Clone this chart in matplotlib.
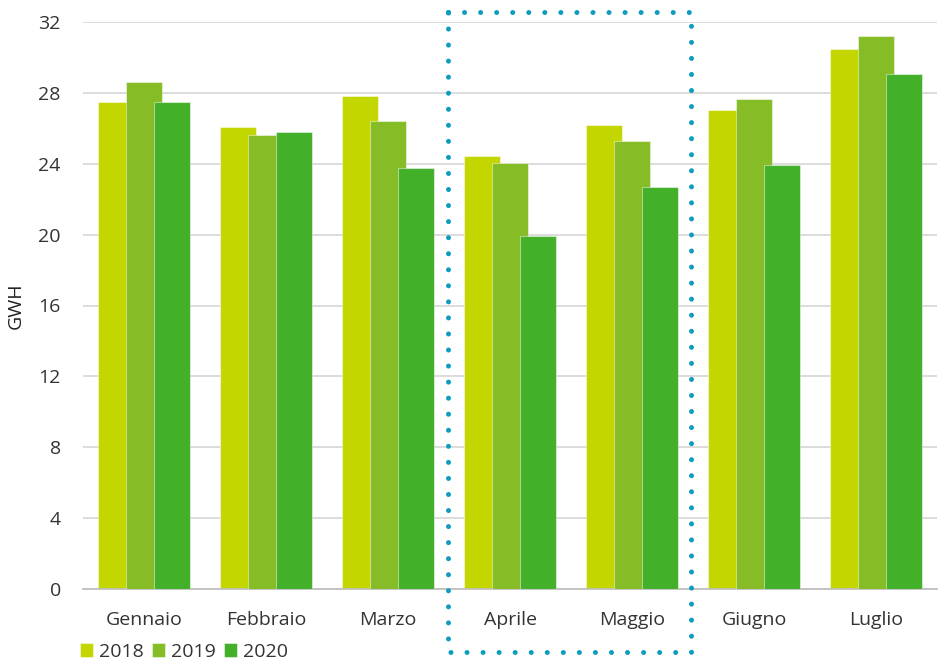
import matplotlib
matplotlib.use('Agg')
import matplotlib.pyplot as plt
import numpy as np

plt.rcParams['font.family'] = ['Open Sans', 'DejaVu Sans']
plt.rcParams['font.size'] = 14

mesi = ['Gennaio', 'Febbraio', 'Marzo', 'Aprile', 'Maggio', 'Giugno', 'Luglio']
anni = ['2018', '2019', '2020']
v2018 = [27.5, 26.1, 27.8, 24.45, 26.2, 27.05, 30.45]
v2019 = [28.6, 25.6, 26.4, 24.05, 25.3, 27.65, 31.2]
v2020 = [27.5, 25.8, 23.75, 19.95, 22.7, 23.95, 29.05]
colori = ['#C4D600', '#86BC25', '#43B02A']

fig = plt.figure(figsize=(9.41, 6.65), dpi=100)
ax = fig.add_axes([83/941, 76/665, 854/941, 567/665])

x = np.arange(len(mesi))
w = 0.30
step = 0.23
for i, (vals, c, lab) in enumerate(zip([v2018, v2019, v2020], colori, anni)):
    ax.bar(x + (i - 1) * step, vals, width=w, color=c, label=lab,
           edgecolor=(1, 1, 1, 0.45), linewidth=0.8, zorder=2 + i)

ax.set_xlim(-0.5, 6.5)
ax.set_ylim(0, 32)
ax.set_yticks(np.arange(0, 33, 4))
ax.set_xticks(x)
ax.set_xticklabels(mesi, fontsize=14.5)
ax.yaxis.grid(True, color='#d9d9d9', linewidth=1.3, zorder=0)
ax.set_axisbelow(True)
for s in ['top', 'right', 'left']:
    ax.spines[s].set_visible(False)
ax.spines['bottom'].set_color('#bfbfbf')
ax.spines['bottom'].set_linewidth(1.3)
ax.tick_params(length=0, colors='#333333', labelsize=14)
ax.tick_params(axis='x', pad=16)
ax.tick_params(axis='y', pad=16)
ax.set_ylabel('GWH', color='#222222', fontsize=14, labelpad=10)

# riquadro tratteggiato Aprile-Maggio
bx0, bx1 = 2.49, 4.48
by0, by1 = -3.56, 32.56
ax.plot([bx0, bx1, bx1, bx0, bx0], [by1, by1, by0, by0, by1], color='#0E9CBF',
        linewidth=3.6, linestyle=(0, (0.01, 3.2)), dash_capstyle='round',
        clip_on=False, zorder=10)

fig.legend(loc='lower left', bbox_to_anchor=(0.066, -0.02), ncol=3, frameon=False,
           handlelength=0.7, handleheight=0.7, handletextpad=0.3,
           columnspacing=0.4, fontsize=14, labelcolor='#333333')

fig.savefig('out.png', dpi=100)
